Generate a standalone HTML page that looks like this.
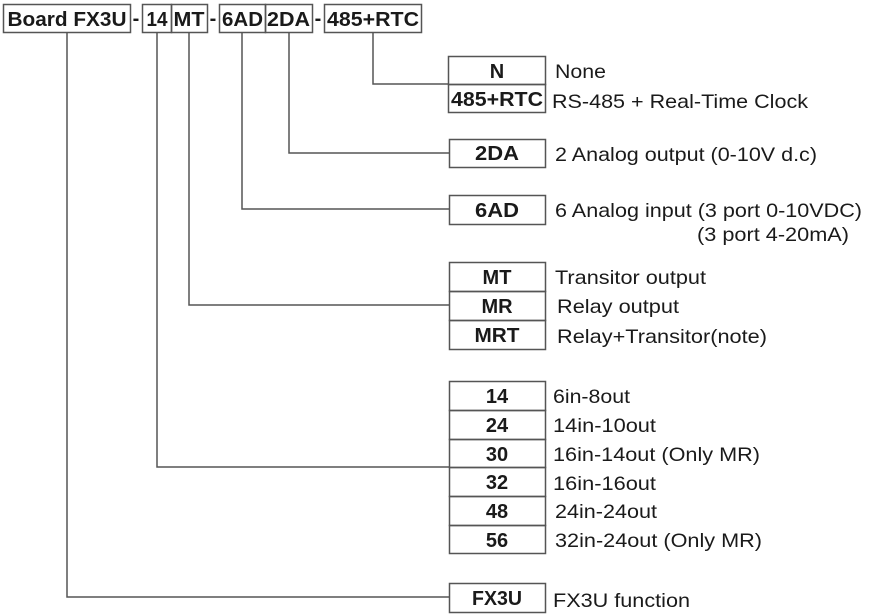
<!DOCTYPE html>
<html><head><meta charset="utf-8"><style>
html,body{margin:0;padding:0;background:#fff;width:870px;height:615px;overflow:hidden}
svg{display:block}
text{font-family:"Liberation Sans",Arial,sans-serif;fill:#1a1a1a}
.b{font-weight:bold;font-size:20px;text-anchor:middle}
.l{font-size:19.5px}
</style></head><body>
<svg width="870" height="615" viewBox="0 0 870 615" xmlns="http://www.w3.org/2000/svg">
<g fill="none" stroke="#555" stroke-width="1.5">
<rect x="3.5" y="4.5" width="127" height="28"/>
<rect x="142.5" y="4.5" width="29" height="28"/>
<rect x="171.5" y="4.5" width="36" height="28"/>
<rect x="219.5" y="4.5" width="46" height="28"/>
<rect x="265.5" y="4.5" width="47" height="28"/>
<rect x="324.5" y="4.5" width="97" height="28"/>
<polyline points="373,32 373,84 449,84"/>
<polyline points="289,32 289,153 449,153"/>
<polyline points="242,32 242,209 449,209"/>
<polyline points="189,32 189,305 449,305"/>
<polyline points="157,32 157,467 449,467"/>
<polyline points="67,32 67,597 449,597"/>
<rect x="448.5" y="56.5" width="97" height="28"/>
<rect x="448.5" y="84.5" width="97" height="28"/>
<rect x="449.5" y="139.5" width="96" height="28"/>
<rect x="449.5" y="195.5" width="96" height="29"/>
<rect x="449.5" y="262.5" width="96" height="29"/>
<rect x="449.5" y="291.5" width="96" height="29"/>
<rect x="449.5" y="320.5" width="96" height="29"/>
<rect x="449.5" y="381.5" width="96" height="29"/>
<rect x="449.5" y="410.5" width="96" height="29"/>
<rect x="449.5" y="439.5" width="96" height="28"/>
<rect x="449.5" y="467.5" width="96" height="29"/>
<rect x="449.5" y="496.5" width="96" height="29"/>
<rect x="449.5" y="525.5" width="96" height="28"/>
<rect x="449.5" y="583.5" width="96" height="29"/>
</g>
<text class="b" x="67" y="26" textLength="119" lengthAdjust="spacingAndGlyphs">Board FX3U</text>
<text class="b" x="136" y="25">-</text>
<text class="b" x="157" y="26" textLength="21" lengthAdjust="spacingAndGlyphs">14</text>
<text class="b" x="189" y="26" textLength="31" lengthAdjust="spacingAndGlyphs">MT</text>
<text class="b" x="213" y="25">-</text>
<text class="b" x="242.5" y="26" textLength="41" lengthAdjust="spacingAndGlyphs">6AD</text>
<text class="b" x="288.5" y="26" textLength="43" lengthAdjust="spacingAndGlyphs">2DA</text>
<text class="b" x="318" y="25">-</text>
<text class="b" x="373" y="26" textLength="92" lengthAdjust="spacingAndGlyphs">485+RTC</text>
<text class="b" x="497" y="78">N</text>
<text class="b" x="497" y="106" textLength="92" lengthAdjust="spacingAndGlyphs">485+RTC</text>
<text class="b" x="497" y="160" textLength="44" lengthAdjust="spacingAndGlyphs">2DA</text>
<text class="b" x="497" y="217" textLength="44" lengthAdjust="spacingAndGlyphs">6AD</text>
<text class="b" x="497" y="284">MT</text>
<text class="b" x="497" y="313">MR</text>
<text class="b" x="497" y="342" textLength="45" lengthAdjust="spacingAndGlyphs">MRT</text>
<text class="b" x="497" y="403">14</text>
<text class="b" x="497" y="432">24</text>
<text class="b" x="497" y="461">30</text>
<text class="b" x="497" y="489">32</text>
<text class="b" x="497" y="518">48</text>
<text class="b" x="497" y="547">56</text>
<text class="b" x="497" y="605" textLength="50" lengthAdjust="spacingAndGlyphs">FX3U</text>
<text class="l" x="555" y="78" textLength="51" lengthAdjust="spacingAndGlyphs">None</text>
<text class="l" x="552" y="108" textLength="256" lengthAdjust="spacingAndGlyphs">RS-485 + Real-Time Clock</text>
<text class="l" x="555" y="161" textLength="262" lengthAdjust="spacingAndGlyphs">2 Analog output (0-10V d.c)</text>
<text class="l" x="555" y="217" textLength="307" lengthAdjust="spacingAndGlyphs">6 Analog input (3 port 0-10VDC)</text>
<text class="l" x="697" y="241" textLength="152" lengthAdjust="spacingAndGlyphs">(3 port 4-20mA)</text>
<text class="l" x="555" y="284" textLength="151" lengthAdjust="spacingAndGlyphs">Transitor output</text>
<text class="l" x="557" y="313" textLength="122" lengthAdjust="spacingAndGlyphs">Relay output</text>
<text class="l" x="557" y="343" textLength="210" lengthAdjust="spacingAndGlyphs">Relay+Transitor(note)</text>
<text class="l" x="553" y="403" textLength="77" lengthAdjust="spacingAndGlyphs">6in-8out</text>
<text class="l" x="553" y="432" textLength="103" lengthAdjust="spacingAndGlyphs">14in-10out</text>
<text class="l" x="553" y="461" textLength="207" lengthAdjust="spacingAndGlyphs">16in-14out (Only MR)</text>
<text class="l" x="553" y="490" textLength="103" lengthAdjust="spacingAndGlyphs">16in-16out</text>
<text class="l" x="555" y="518" textLength="102" lengthAdjust="spacingAndGlyphs">24in-24out</text>
<text class="l" x="555" y="547" textLength="207" lengthAdjust="spacingAndGlyphs">32in-24out (Only MR)</text>
<text class="l" x="553" y="607" textLength="137" lengthAdjust="spacingAndGlyphs">FX3U function</text>
</svg>
</body></html>
